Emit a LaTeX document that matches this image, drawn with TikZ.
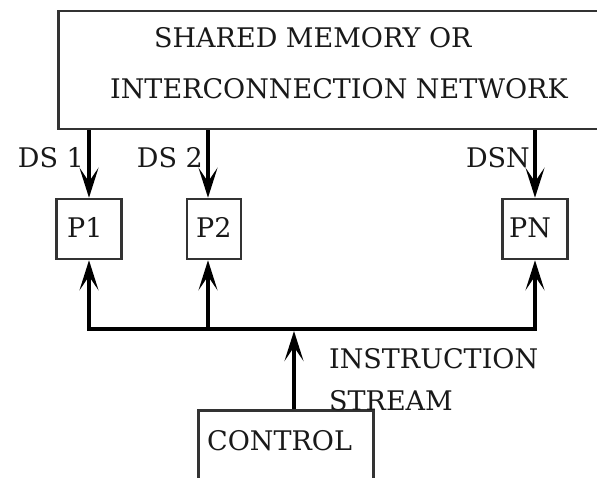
\documentclass[tikz,border=0pt]{standalone}
\usepackage{fontspec}
\setmainfont{DejaVu Serif}
\usetikzlibrary{arrows.meta}
\tikzset{
  box/.style={draw=black!80, line width=2.5pt, fill=white, inner sep=0pt},
  lbl/.style={inner sep=0pt, text=black!90, font=\fontsize{27}{31}\selectfont},
  arr/.style={line width=3.5pt, draw=black,
    -{Stealth[length=30pt 0, width=19pt 0, inset=14pt 0]}},
  wire/.style={line width=3.5pt, draw=black, line cap=rect},
}
\begin{document}
\begin{tikzpicture}[x=1pt,y=-1pt]
  \useasboundingbox (0,0) rectangle (597,478);
  \clip (0,0) rectangle (597,478);
  \fill[white] (0,0) rectangle (597,478);

  % shared memory / network block (runs off the right edge)
  \node[box, minimum width=600pt, minimum height=118pt, anchor=north west] (mem) at (57,10) {};
  \node[lbl, anchor=base west] (memA) at (154,48) {SHARED MEMORY OR};
  \node[lbl, anchor=base west] (memB) at (110,99) {INTERCONNECTION NETWORK};

  % processors
  \node[box, minimum width=65pt, minimum height=60pt] (p1) at (89,229) {};
  \node[box, minimum width=54pt, minimum height=60pt] (p2) at (214,229) {};
  \node[box, minimum width=65pt, minimum height=60pt] (pn) at (535,229) {};
  \node[lbl, anchor=base west] (t1) at (67,238) {P1};
  \node[lbl, anchor=base west] (t2) at (196,238) {P2};
  \node[lbl, anchor=base west] (tn) at (509,238) {PN};

  % control unit (runs off the bottom edge)
  \node[box, minimum width=175pt, minimum height=100pt, anchor=north west] (ctrl) at (197,409) {};
  \node[lbl, anchor=base west] (tc) at (207,450) {CONTROL};

  % data streams from memory
  \coordinate (d2) at ([xshift=-6pt]p2.north);
  \draw[arr] (p1.north |- mem.south) -- (p1.north);
  \draw[arr] (d2 |- mem.south) -- (d2);
  \draw[arr] (pn.north |- mem.south) -- (pn.north);
  \node[lbl, anchor=base east] (ds1) at (84,168) {DS 1};
  \node[lbl, anchor=base east] (ds2) at (203,168) {DS 2};
  \node[lbl, anchor=base east] (dsn) at (530,168) {DSN};

  % instruction bus
  \coordinate (bus) at (0,329);
  \coordinate (u2) at ([xshift=-6pt]p2.south);
  \draw[wire] (p1.south |- bus) -- (pn.south |- bus);
  \draw[arr] (p1.south |- bus) -- (p1.south);
  \draw[arr] (u2 |- bus) -- (u2);
  \draw[arr] (pn.south |- bus) -- (pn.south);
  \coordinate (join) at (294,331);
  \draw[arr] (ctrl.north -| join) -- (join);
  \node[lbl, anchor=base west] (is1) at (329,368) {INSTRUCTION};
  \node[lbl, anchor=base west] (is2) at (329,410) {STREAM};
\end{tikzpicture}
\end{document}
